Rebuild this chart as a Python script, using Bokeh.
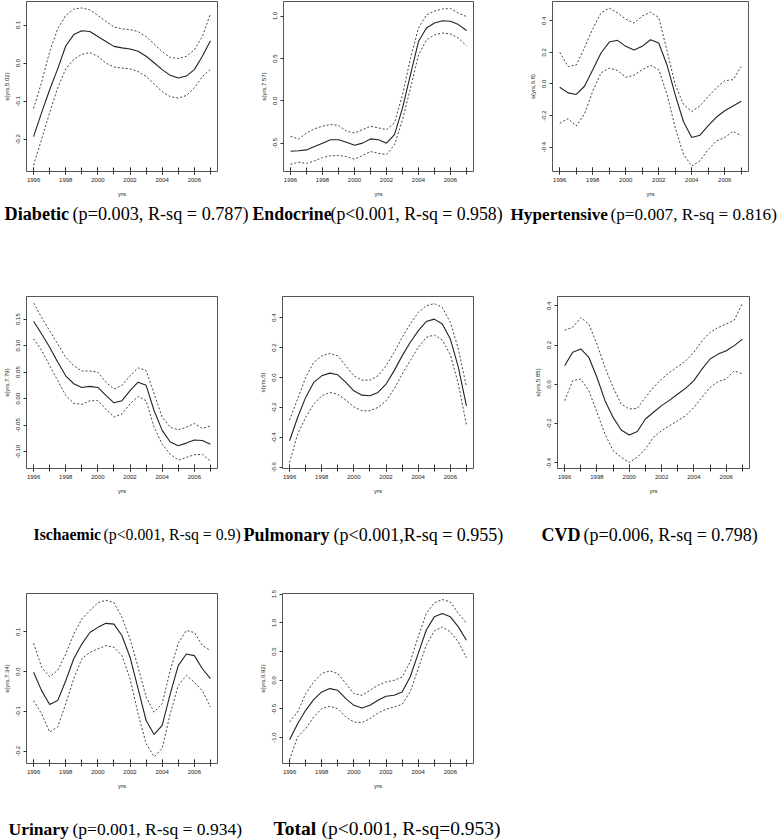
from bokeh.plotting import figure
from bokeh.layouts import column, row
from bokeh.models import FixedTicker, Range1d
from bokeh.core.properties import value
from bokeh.embed import file_html
from bokeh.resources import INLINE

# ---------------- data ----------------
yrs = [1996.0, 1996.5, 1997.0, 1997.5, 1998.0, 1998.5, 1999.0, 1999.5, 2000.0, 2000.5,
       2001.0, 2001.5, 2002.0, 2002.5, 2003.0, 2003.5, 2004.0, 2004.5, 2005.0, 2005.5,
       2006.0, 2006.5, 2007.0]
year_major = [1996, 1998, 2000, 2002, 2004, 2006]
year_minor = [1996, 1997, 1998, 1999, 2000, 2001, 2002, 2003, 2004, 2005, 2006, 2007]

names = ["Diabetic", "Endocrine", "Hypertensive", "Ischaemic", "Pulmonary", "CVD", "Urinary", "Total"]
stats = ["(p=0.003, R-sq = 0.787)", "(p<0.001, R-sq = 0.958)", "(p=0.007, R-sq = 0.816)",
         "(p<0.001, R-sq = 0.9)", "(p<0.001,R-sq = 0.955)", "(p=0.006, R-sq = 0.798)",
         "(p=0.001, R-sq = 0.934)", "(p<0.001, R-sq=0.953)"]
ylabels = ["s(yrs,5.02)", "s(yrs,7.57)", "s(yrs,6.8)", "s(yrs,7.79)", "s(yrs,6)",
           "s(yrs,5.85)", "s(yrs,7.34)", "s(yrs,6.92)"]

diabetic_fit = [-0.193, -0.13, -0.07, -0.015, 0.045, 0.075, 0.085, 0.083, 0.07, 0.057, 0.044, 0.04,
                0.037, 0.031, 0.018, 0.001, -0.017, -0.032, -0.039, -0.034, -0.017, 0.018, 0.059]
diabetic_hi = [-0.119, -0.05, 0.03, 0.09, 0.125, 0.142, 0.145, 0.14, 0.125, 0.11, 0.095, 0.09,
               0.088, 0.083, 0.07, 0.05, 0.03, 0.015, 0.012, 0.018, 0.035, 0.07, 0.13]
diabetic_lo = [-0.268, -0.2, -0.13, -0.065, -0.015, 0.01, 0.023, 0.028, 0.018, 0.0, -0.01, -0.013,
               -0.015, -0.022, -0.035, -0.055, -0.075, -0.088, -0.092, -0.085, -0.065, -0.035, -0.016]

endocrine_fit = [-0.596, -0.59, -0.58, -0.54, -0.5, -0.46, -0.46, -0.49, -0.525, -0.5, -0.45, -0.46,
                 -0.5, -0.4, -0.086, 0.31, 0.7, 0.86, 0.92, 0.945, 0.94, 0.9, 0.83]
endocrine_hi = [-0.42, -0.45, -0.38, -0.33, -0.3, -0.28, -0.29, -0.36, -0.38, -0.34, -0.3, -0.32,
                -0.34, -0.26, 0.07, 0.5, 0.86, 1.015, 1.06, 1.085, 1.09, 1.035, 0.995]
endocrine_lo = [-0.75, -0.725, -0.74, -0.71, -0.67, -0.65, -0.645, -0.66, -0.69, -0.645, -0.6, -0.62,
                -0.635, -0.52, -0.225, 0.15, 0.54, 0.72, 0.78, 0.8, 0.79, 0.74, 0.65]

hyper_fit = [-0.021, -0.057, -0.067, -0.015, 0.09, 0.196, 0.265, 0.276, 0.238, 0.215, 0.238, 0.28,
             0.259, 0.12, -0.07, -0.24, -0.34, -0.325, -0.265, -0.21, -0.17, -0.14, -0.11]
hyper_hi = [0.2, 0.11, 0.12, 0.23, 0.35, 0.45, 0.48, 0.45, 0.41, 0.385, 0.43, 0.455,
            0.42, 0.21, -0.005, -0.13, -0.175, -0.14, -0.08, -0.025, 0.02, 0.027, 0.11]
hyper_lo = [-0.25, -0.22, -0.267, -0.19, -0.046, 0.07, 0.1, 0.085, 0.042, 0.055, 0.09, 0.118,
            0.09, -0.067, -0.278, -0.446, -0.52, -0.488, -0.415, -0.362, -0.34, -0.3, -0.33]

isch_fit = [0.146, 0.122, 0.097, 0.069, 0.043, 0.028, 0.021, 0.023, 0.021, 0.006, -0.008, -0.004,
            0.015, 0.031, 0.025, -0.023, -0.06, -0.082, -0.089, -0.084, -0.078, -0.079, -0.086]
isch_hi = [0.18, 0.153, 0.128, 0.103, 0.078, 0.062, 0.052, 0.052, 0.05, 0.031, 0.018, 0.025,
           0.043, 0.058, 0.053, 0.009, -0.035, -0.054, -0.059, -0.054, -0.047, -0.056, -0.052]
isch_lo = [0.113, 0.091, 0.062, 0.034, 0.006, -0.009, -0.011, -0.004, -0.004, -0.02, -0.035, -0.029,
           -0.01, 0.004, -0.004, -0.054, -0.086, -0.105, -0.116, -0.111, -0.106, -0.105, -0.118]

pulm_fit = [-0.422, -0.267, -0.133, -0.033, 0.011, 0.029, 0.018, -0.033, -0.089, -0.118, -0.122, -0.1,
            -0.044, 0.044, 0.144, 0.233, 0.311, 0.373, 0.389, 0.356, 0.256, 0.067, -0.189]
pulm_hi = [-0.284, -0.144, 0.0, 0.1, 0.144, 0.16, 0.144, 0.078, 0.011, -0.018, -0.018, 0.011,
           0.078, 0.167, 0.267, 0.356, 0.433, 0.478, 0.493, 0.467, 0.367, 0.189, -0.062]
pulm_lo = [-0.567, -0.378, -0.267, -0.178, -0.122, -0.1, -0.111, -0.151, -0.196, -0.222, -0.222, -0.2,
           -0.156, -0.078, 0.022, 0.111, 0.2, 0.267, 0.284, 0.249, 0.151, -0.044, -0.316]

cvd_fit = [0.095, 0.163, 0.18, 0.137, 0.036, -0.083, -0.168, -0.232, -0.258, -0.24, -0.176, -0.142,
           -0.108, -0.08, -0.049, -0.019, 0.019, 0.078, 0.129, 0.154, 0.171, 0.197, 0.23]
cvd_hi = [0.276, 0.29, 0.34, 0.307, 0.205, 0.086, -0.015, -0.1, -0.125, -0.122, -0.066, -0.015,
          0.027, 0.061, 0.09, 0.12, 0.163, 0.222, 0.264, 0.29, 0.307, 0.327, 0.412]
cvd_lo = [-0.083, 0.019, 0.027, -0.032, -0.142, -0.253, -0.337, -0.371, -0.397, -0.371, -0.329, -0.269,
          -0.236, -0.21, -0.185, -0.159, -0.117, -0.066, -0.015, 0.014, 0.027, 0.069, 0.053]

urin_fit = [-0.002, -0.048, -0.083, -0.073, -0.023, 0.032, 0.069, 0.098, 0.111, 0.121, 0.119, 0.09,
            0.036, -0.043, -0.123, -0.158, -0.135, -0.056, 0.015, 0.044, 0.04, 0.007, -0.018]
urin_hi = [0.071, 0.011, -0.013, 0.003, 0.044, 0.094, 0.132, 0.153, 0.173, 0.179, 0.173, 0.136,
           0.082, 0.011, -0.064, -0.102, -0.081, 0.003, 0.071, 0.103, 0.098, 0.065, 0.053]
urin_lo = [-0.073, -0.106, -0.152, -0.139, -0.081, -0.018, 0.032, 0.048, 0.057, 0.065, 0.061, 0.04,
           -0.018, -0.106, -0.181, -0.214, -0.193, -0.106, -0.035, -0.01, -0.027, -0.048, -0.089]

total_fit = [-1.035, -0.756, -0.523, -0.337, -0.203, -0.145, -0.174, -0.32, -0.436, -0.483, -0.436, -0.349,
             -0.279, -0.262, -0.203, 0.058, 0.465, 0.872, 1.105, 1.163, 1.105, 0.93, 0.698]
total_hi = [-0.727, -0.552, -0.233, -0.029, 0.116, 0.163, 0.116, -0.058, -0.233, -0.262, -0.174, -0.087,
            -0.029, 0.0, 0.058, 0.32, 0.756, 1.163, 1.349, 1.407, 1.366, 1.163, 1.0]
total_lo = [-1.384, -0.988, -0.843, -0.64, -0.494, -0.453, -0.494, -0.64, -0.727, -0.738, -0.669, -0.57,
            -0.506, -0.465, -0.419, -0.203, 0.203, 0.61, 0.86, 0.93, 0.843, 0.669, 0.39]

fits = [diabetic_fit, endocrine_fit, hyper_fit, isch_fit, pulm_fit, cvd_fit, urin_fit, total_fit]
his = [diabetic_hi, endocrine_hi, hyper_hi, isch_hi, pulm_hi, cvd_hi, urin_hi, total_hi]
los = [diabetic_lo, endocrine_lo, hyper_lo, isch_lo, pulm_lo, cvd_lo, urin_lo, total_lo]

ytick_values = [[-0.2, -0.1, 0.0, 0.1], [-0.5, 0.0, 0.5, 1.0], [-0.4, -0.2, 0.0, 0.2, 0.4],
                [-0.10, -0.05, 0.0, 0.05, 0.10, 0.15], [-0.6, -0.4, -0.2, 0.0, 0.2, 0.4],
                [-0.4, -0.2, 0.0, 0.2, 0.4], [-0.2, -0.1, 0.0, 0.1], [-1.0, -0.5, 0.0, 0.5, 1.0, 1.5]]
ytick_labels = [["-0.2", "-0.1", "0.0", "0.1"], ["-0.5", "0.0", "0.5", "1.0"],
                ["-0.4", "-0.2", "0.0", "0.2", "0.4"],
                ["-0.10", "-0.05", "0.00", "0.05", "0.10", "0.15"],
                ["-0.6", "-0.4", "-0.2", "0.0", "0.2", "0.4"],
                ["-0.4", "-0.2", "0.0", "0.2", "0.4"], ["-0.2", "-0.1", "0.0", "0.1"],
                ["-1.0", "-0.5", "0.0", "0.5", "1.0", "1.5"]]
ylims = [(-0.2846, 0.1619), (-0.835, 1.173), (-0.555, 0.522), (-0.1319, 0.1926),
         (-0.607, 0.54), (-0.428, 0.447), (-0.231, 0.196), (-1.45, 1.512)]
xlim = (1995.56, 2007.44)

# ---------------- layout (pixels) ----------------
# per panel: row, left border, frame width, right border
geom = [(0, 26, 191, 38), (0, 28, 190, 42), (0, 37, 196, 30),
        (1, 26, 191, 38), (1, 27, 191, 42), (1, 42, 192, 29),
        (2, 26, 191, 38), (2, 27, 191, 305)]
row_v = [(1, 170, 29), (16, 172, 30), (33, 170, 32)]   # top border, frame height, bottom border
strip_h = [80, 62, 45]
# caption inside each strip: bold x, normal x, centre y, font size (px)
cap_pos = [(4, 72, 13.5, 18.2), (252, 330, 13.5, 17.8), (510, 610, 13.5, 17.2),
           (33, 103, 36, 15.8), (243, 333, 36, 18), (541, 583, 36, 18),
           (8, 72, 33, 17.5), (273, 321, 33, 19.5)]

AX_COL = "#333333"
LINE_COL = "#222222"
BAND_COL = "#444444"


def make_panel(i):
    r, bl, fw, br = geom[i]
    bt, fh, bb = row_v[r]
    p = figure(frame_width=fw, frame_height=fh, min_border_left=bl, min_border_right=br,
               min_border_top=bt, min_border_bottom=bb,
               x_range=Range1d(*xlim), y_range=Range1d(*ylims[i]),
               toolbar_location=None, output_backend="svg",
               background_fill_color="white", border_fill_color="white")
    p.xgrid.visible = False
    p.ygrid.visible = False
    p.outline_line_color = "#555555"
    p.outline_line_width = 1

    p.line(yrs, fits[i], line_color=LINE_COL, line_width=1.1)
    p.line(yrs, his[i], line_color=BAND_COL, line_width=1, line_dash="2 2")
    p.line(yrs, los[i], line_color=BAND_COL, line_width=1, line_dash="2 2")

    xa = p.xaxis[0]
    xa.ticker = FixedTicker(ticks=year_major, minor_ticks=year_minor)
    xa.axis_line_color = None
    xa.major_tick_line_color = AX_COL
    xa.minor_tick_line_color = AX_COL
    xa.major_tick_in = 4
    xa.major_tick_out = 3
    xa.minor_tick_in = 4
    xa.minor_tick_out = 3
    xa.major_label_standoff = 3
    xa.major_label_text_font = "Liberation Sans"
    xa.major_label_text_font_size = "6px"
    xa.major_label_text_color = "#222222"
    xa.axis_label = "yrs"
    xa.axis_label_text_font = "Liberation Sans"
    xa.axis_label_text_font_size = "6px"
    xa.axis_label_text_font_style = "normal"
    xa.axis_label_text_color = "#222222"
    xa.axis_label_standoff = 6

    ya = p.yaxis[0]
    ya.ticker = FixedTicker(ticks=ytick_values[i])
    ya.major_label_overrides = {v: s for v, s in zip(ytick_values[i], ytick_labels[i])}
    ya.axis_line_color = None
    ya.major_tick_line_color = AX_COL
    ya.minor_tick_line_color = None
    ya.major_tick_in = 0
    ya.major_tick_out = 3
    ya.major_label_standoff = 3
    ya.major_label_orientation = "vertical"
    ya.major_label_text_font = "Liberation Sans"
    ya.major_label_text_font_size = "6px"
    ya.major_label_text_color = "#222222"
    ya.axis_label = ylabels[i]
    ya.axis_label_text_font = "Liberation Sans"
    ya.axis_label_text_font_size = "6px"
    ya.axis_label_text_font_style = "normal"
    ya.axis_label_text_color = "#222222"
    ya.axis_label_standoff = 4
    return p


def make_strip(k, idxs):
    h = strip_h[k]
    s = figure(width=778, height=h, x_range=Range1d(0, 778), y_range=Range1d(h, 0),
               min_border=0, toolbar_location=None, output_backend="svg",
               background_fill_color="white", border_fill_color="white")
    s.axis.visible = False
    s.grid.visible = False
    s.outline_line_color = None
    for i in idxs:
        bx, nx, cy, fs = cap_pos[i]
        s.text(x=[bx], y=[cy], text=[names[i]], text_font=value("Liberation Serif"),
               text_font_size=value(f"{fs}px"), text_font_style="bold", text_color="black",
               text_align="left", text_baseline="middle")
        s.text(x=[nx], y=[cy], text=[stats[i]], text_font=value("Liberation Serif"),
               text_font_size=value(f"{fs}px"), text_font_style="normal", text_color="black",
               text_align="left", text_baseline="middle")
    return s


plots = [make_panel(i) for i in range(8)]
layout = column(row(plots[0], plots[1], plots[2], spacing=0),
                make_strip(0, [0, 1, 2]),
                row(plots[3], plots[4], plots[5], spacing=0),
                make_strip(1, [3, 4, 5]),
                row(plots[6], plots[7], spacing=0),
                make_strip(2, [6, 7]),
                spacing=0)

open("out.html", "w").write(file_html(layout, INLINE))
